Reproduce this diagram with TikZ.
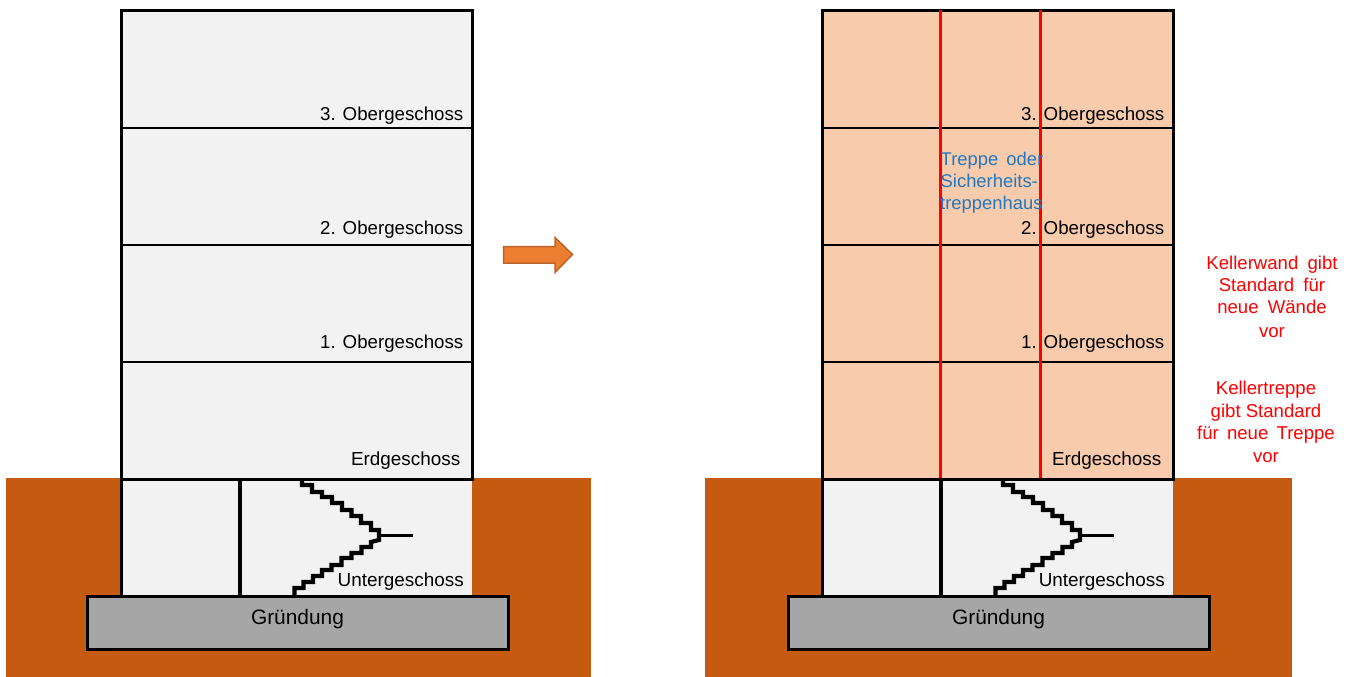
\documentclass[tikz,border=0pt]{standalone}
\usepackage{fontspec}
\setmainfont{Liberation Sans}
\definecolor{soil}{HTML}{C55A11}
\definecolor{cellar}{HTML}{F2F2F2}
\definecolor{found}{HTML}{A6A6A6}
\definecolor{peach}{HTML}{F8CBAD}
\definecolor{arrfill}{HTML}{ED7D31}
\definecolor{arrline}{HTML}{BE6428}
\definecolor{bluetxt}{HTML}{2278BE}
\definecolor{redtxt}{HTML}{FF0000}
\tikzset{
  x=1pt,y=-1pt,
  floorlabel/.style={anchor=base east,inner sep=0pt,font=\fontsize{18.7}{22}\selectfont,text=black},
  baselabel/.style={anchor=base east,inner sep=0pt,font=\fontsize{18.9}{22}\selectfont,text=black},
  groundarea/.style={fill=soil,draw=none},
  roomarea/.style={fill=cellar,draw=none},
  outline/.style={draw=black,line width=3pt},
  floorline/.style={draw=black,line width=2pt},
  stairline/.style={draw=black,line width=4.2pt,line join=miter},
  redline/.style={draw=redtxt,line width=3pt},
  bluenote/.style={inner sep=0pt,anchor=base west,text=bluetxt,font=\fontsize{18.4}{22}\selectfont},
  note/.style={align=center,inner sep=0pt,text=redtxt,font=\fontsize{18.6}{22}\selectfont},
}
\newcommand{\building}[4]{% name prefix, x shift, floor fill, soil left edge
\begin{scope}[xshift=#2pt]
  \path[groundarea] (#4,478) rectangle (470,677);
  \path[roomarea] (0,478) rectangle (351,596);
  \path[fill=#3] (0,10.5) rectangle (351,479);
  \draw[floorline] (0,128) -- (351,128) (0,245) -- (351,245) (0,362) -- (351,362);
  \draw[outline] (0,479) -- (0,10.5) -- (351,10.5) -- (351,479) -- cycle;
  \draw[outline] (0,479) -- (0,596);
  \draw[line width=4pt] (119,479) -- (119,596);
  \draw[stairline] (181,480) -- (181,485) -- (191,485) -- (191,492) -- (201,492) -- (201,497) -- (211,497) -- (211,503) -- (221,503) -- (221,510) -- (230.5,510) -- (230.5,516) -- (240,516) -- (240,523) -- (250,523) -- (250,530) -- (258,530) -- (258,540) -- (250,542) -- (250,547) -- (240.5,547) -- (240.5,553) -- (230.5,553) -- (230.5,558) -- (220.5,558) -- (220.5,565) -- (210.5,565) -- (210.5,570) -- (201,570) -- (201,576) -- (192,576) -- (192,582) -- (182.5,582) -- (182.5,588) -- (173.5,588) -- (173.5,595);
  \draw[line width=3pt] (258,535.5) -- (292,535.5);
  \node[floorlabel] (#1o3) at (342.5,121) {3. Obergeschoss};
  \node[floorlabel] (#1o2) at (342.5,234) {2. Obergeschoss};
  \node[floorlabel] (#1o1) at (342.5,348) {1. Obergeschoss};
  \node[baselabel] (#1eg) at (339.5,465) {Erdgeschoss};
  \node[baselabel] (#1ug) at (343,586) {Untergeschoss};
  \node[draw=black,line width=3pt,fill=found,minimum width=421pt,minimum height=53.5pt,inner sep=0pt,outer sep=0pt,anchor=north west] (#1gr) at (-34,596) {};
  \node[inner sep=0pt,anchor=base,font=\fontsize{20.9}{24}\selectfont] (#1grt) at (176.5,624) {Gründung};
\end{scope}}
\begin{document}
\begin{tikzpicture}
\useasboundingbox (0,0) rectangle (1355,677);
\building{l}{121}{cellar}{-115}
\building{r}{822}{peach}{-117}
\draw[redline] (940,10.5) -- (940,478);
\draw[redline] (1040,10.5) -- (1040,478);
\fill[arrfill,draw=arrline,line width=1.5pt] (503.5,246.5) -- (555,246.5) -- (555,237.5) -- (572.5,254.5) -- (555,272.5) -- (555,263) -- (503.5,263) -- cycle;
\node[bluenote] (t1) at (940.5,165) {Treppe\hspace{3pt} oder};
\node[bluenote] (t2) at (940.5,187) {Sicherheits-};
\node[bluenote] (t3) at (940,209) {treppenhaus};
\node[note,anchor=base] (n1) at (1272,337) {Kellerwand\hspace{4pt} gibt\\Standard\hspace{4pt} für\\neue\hspace{4pt} Wände\\[2pt]vor};
\node[note,anchor=base] (n2) at (1266,462) {Kellertreppe\\[1pt]gibt Standard\\für\hspace{3pt} neue\hspace{3pt} Treppe\\[1pt]vor};
\end{tikzpicture}
\end{document}
